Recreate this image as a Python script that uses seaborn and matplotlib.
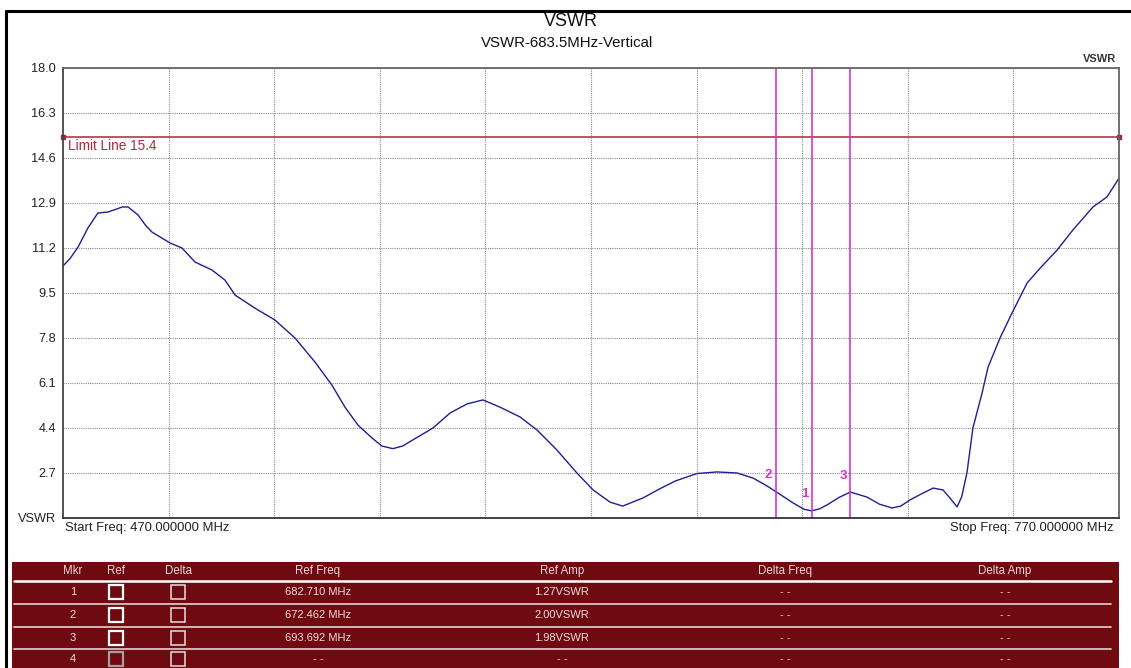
import numpy as np
import pandas as pd
import matplotlib.pyplot as plt
from matplotlib.patches import Rectangle
import seaborn as sns

# trace (MHz, VSWR)
freq = [470.0, 472.0, 474.3, 477.1, 479.9, 482.8, 485.0, 486.8, 488.5, 491.3,
        493.5, 495.3, 500.4, 503.8, 507.5, 512.3, 516.0, 518.9, 524.5, 530.2,
        535.9, 541.6, 546.4, 550.1, 553.8, 557.8, 560.6, 563.7, 566.5, 569.4,
        575.1, 580.0, 584.8, 589.3, 594.1, 599.8, 604.7, 610.3, 616.0, 620.6,
        625.4, 629.0, 634.8, 639.5, 644.0, 650.1, 655.8, 661.5, 666.0, 669.5,
        672.462, 677.4, 680.5, 682.71, 685.0, 687.0, 690.5, 693.692, 698.4, 702.0,
        705.5, 708.0, 710.6, 714.0, 717.2, 720.0, 722.0, 724.0, 725.3, 726.8,
        728.5, 731.1, 732.8, 736.2, 739.6, 743.9, 747.6, 752.4, 756.9, 762.6,
        766.6, 770.0]
vswr = [10.52, 10.80, 11.24, 11.96, 12.52, 12.56, 12.66, 12.75, 12.75, 12.45,
        12.05, 11.80, 11.39, 11.20, 10.67, 10.37, 9.99, 9.42, 8.93, 8.48,
        7.80, 6.89, 6.02, 5.19, 4.51, 4.02, 3.72, 3.62, 3.72, 3.95,
        4.40, 4.97, 5.31, 5.46, 5.19, 4.82, 4.32, 3.57, 2.70, 2.06,
        1.60, 1.45, 1.76, 2.10, 2.40, 2.68, 2.74, 2.70, 2.51, 2.25,
        2.00, 1.57, 1.33, 1.27, 1.35, 1.49, 1.78, 1.98, 1.79, 1.52,
        1.38, 1.45, 1.68, 1.92, 2.13, 2.06, 1.75, 1.42, 1.80, 2.70,
        4.40, 5.72, 6.70, 7.80, 8.74, 9.88, 10.44, 11.12, 11.88, 12.75,
        13.13, 13.84]

y_ticks = [1.0, 2.7, 4.4, 6.1, 7.8, 9.5, 11.2, 12.9, 14.6, 16.3, 18.0]
y_labels = ['VSWR', '2.7', '4.4', '6.1', '7.8', '9.5', '11.2', '12.9', '14.6', '16.3', '18.0']
x_grid = [500, 530, 560, 590, 620, 650, 680, 710, 740]

limit_val = 15.4
mkr_ids = ['1', '2', '3']
mkr_freq = [682.710, 672.462, 693.692]
mkr_amp = [1.27, 2.00, 1.98]

tbl_header = ['Mkr', 'Ref', 'Delta', 'Ref Freq', 'Ref Amp', 'Delta Freq', 'Delta Amp']
tbl_mkr = ['1', '2', '3', '4']
tbl_ref_freq = ['682.710 MHz', '672.462 MHz', '693.692 MHz', '- -']
tbl_ref_amp = ['1.27VSWR', '2.00VSWR', '1.98VSWR', '- -']
tbl_delta_freq = ['- -', '- -', '- -', '- -']
tbl_delta_amp = ['- -', '- -', '- -', '- -']

sns.set_theme(style='white')
plt.rcParams['font.family'] = ['Liberation Sans', 'DejaVu Sans']

W, H = 1131, 668
fig = plt.figure(figsize=(W / 100, H / 100), dpi=100)
fig.patch.set_facecolor('white')

# main plot
ax = fig.add_axes([63 / W, 1 - 518 / H, 1056 / W, 450 / H])
df = pd.DataFrame({'freq': freq, 'vswr': vswr})
sns.lineplot(data=df, x='freq', y='vswr', color='#1f1f8f', linewidth=1.0, ax=ax, sort=False)
ax.set_xlim(470, 770)
ax.set_ylim(1.0, 18.0)
ax.set_xticks(x_grid)
ax.set_xticklabels([])
ax.set_yticks(y_ticks)
ax.set_yticklabels(y_labels)
ax.set_xlabel('')
ax.set_ylabel('')
ax.grid(True, color='#8a8a8a', linestyle=(0, (1, 1)), linewidth=0.8)
ax.tick_params(axis='both', length=0, labelsize=9.2, pad=5, labelcolor='#222222')
for s in ax.spines.values():
    s.set_color('#666666')
    s.set_linewidth(1.3)
ax.spines['left'].set_color('#444444')
ax.spines['bottom'].set_color('#333333')

# limit line
ax.plot([470, 770], [limit_val, limit_val], color='#a3283c', linewidth=1.1,
        marker='s', markersize=3, clip_on=False)
ax.text(471.5, limit_val - 0.33, 'Limit Line %.1f' % limit_val, color='#b0283c',
        fontsize=9.8, ha='left', va='center')

# markers
for mid, mf, ma in zip(mkr_ids, mkr_freq, mkr_amp):
    ax.axvline(mf, color='#d633d6', linewidth=1.2)
    ax.annotate(mid, (mf, ma + 0.62), xytext=(-2.5, 0), textcoords='offset points',
                ha='right', va='center', color='#d633d6', fontsize=9.5, fontweight='bold')

# texts around the plot
fig.text(571 / W, 1 - 22 / H, 'VSWR', ha='center', va='center', fontsize=13, color='#111111')
fig.text(567 / W, 1 - 43 / H, 'VSWR-683.5MHz-Vertical', ha='center', va='center',
         fontsize=10.8, color='#111111')
fig.text(1116 / W, 1 - 59 / H, 'VSWR', ha='right', va='center', fontsize=8,
         fontweight='bold', color='#333333')
fig.text(65 / W, 1 - 528 / H, 'Start Freq: 470.000000 MHz', ha='left', va='center',
         fontsize=9.4, color='#222222')
fig.text(1114 / W, 1 - 528 / H, 'Stop Freq: 770.000000 MHz', ha='right', va='center',
         fontsize=9.4, color='#222222')

# overlay in pixel units for frame and marker table
ov = fig.add_axes([0, 0, 1, 1], zorder=-1)
ov.set_xlim(0, W)
ov.set_ylim(H, 0)
ov.axis('off')
ov.plot([6, 6], [11, H], color='black', linewidth=2.2)
ov.plot([6, W], [11, 11], color='black', linewidth=2.2)

ov2 = fig.add_axes([0, 0, 1, 1])
ov2.set_xlim(0, W)
ov2.set_ylim(H, 0)
ov2.axis('off')
ov2.patch.set_alpha(0)

tbl_left, tbl_right, tbl_top = 12, 1119, 562
maroon = '#6e0a10'
ov2.add_patch(Rectangle((tbl_left, tbl_top), tbl_right - tbl_left, H - tbl_top,
                        facecolor=maroon, edgecolor='none'))
col_x = [73, 116, 178, 318, 562, 785, 1005]
header_y = 571
row_y = [592, 615, 638, 659]
row_lines = [604, 627, 649]

ov2.plot([tbl_left + 2, tbl_right - 8], [581, 581], color='white', linewidth=1.8)
for ly in row_lines:
    ov2.plot([tbl_left + 2, tbl_right - 8], [ly, ly], color='#d9c3c3', linewidth=1.3)

for cx, h in zip(col_x, tbl_header):
    ov2.text(cx, header_y, h, ha='center', va='center', fontsize=8.3, color='#ead6d6')

for i, ry in enumerate(row_y):
    ov2.text(col_x[0], ry, tbl_mkr[i], ha='center', va='center', fontsize=8, color='#f0dcdc')
    ref_edge = 'white' if i < 3 else '#a8a0a0'
    ov2.add_patch(Rectangle((col_x[1] - 7, ry - 7), 14, 14, facecolor=maroon,
                            edgecolor=ref_edge, linewidth=1.6))
    ov2.add_patch(Rectangle((col_x[2] - 7, ry - 7), 14, 14, facecolor=maroon,
                            edgecolor='#e6dede', linewidth=1.1))
    ov2.text(col_x[3], ry, tbl_ref_freq[i], ha='center', va='center', fontsize=8, color='#f0dcdc')
    ov2.text(col_x[4], ry, tbl_ref_amp[i], ha='center', va='center', fontsize=8, color='#f0dcdc')
    ov2.text(col_x[5], ry, tbl_delta_freq[i], ha='center', va='center', fontsize=8, color='#e0c8c8')
    ov2.text(col_x[6], ry, tbl_delta_amp[i], ha='center', va='center', fontsize=8, color='#e0c8c8')

fig.savefig('out.png', dpi=100)
